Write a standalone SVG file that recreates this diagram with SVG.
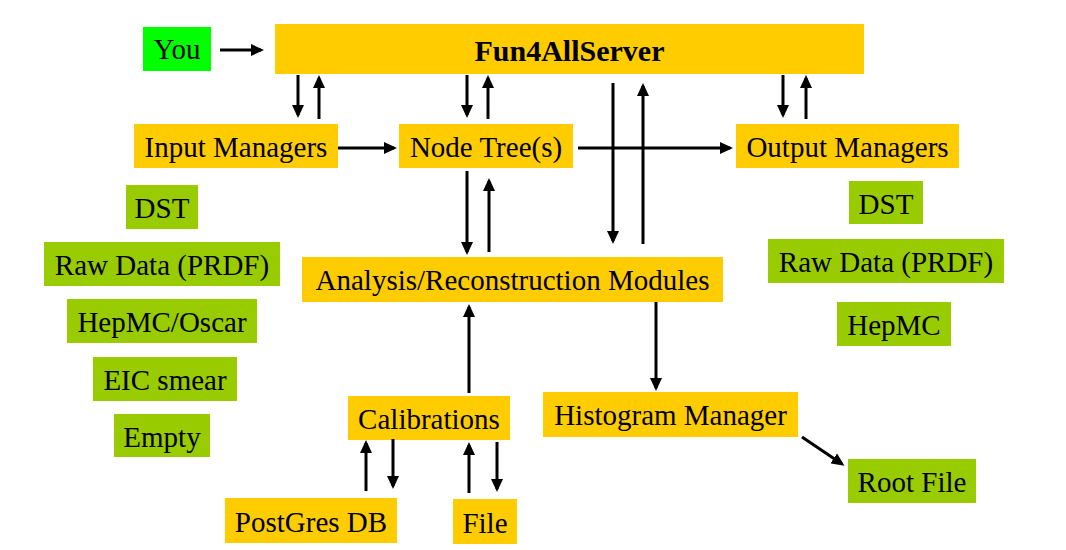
<svg xmlns="http://www.w3.org/2000/svg" width="1066" height="550" viewBox="0 0 1066 550">
<defs>
<style>
.y{fill:#ffcc00}
.g{fill:#99cc00}
.t{font-family:"Liberation Serif","Times New Roman",serif;font-size:29px;fill:#000;text-anchor:middle}
.b{font-weight:bold;font-size:30px}
.c line{stroke:#000;stroke-width:3;marker-end:url(#ah)}
</style>
<marker id="ah" markerUnits="userSpaceOnUse" markerWidth="14" markerHeight="12" refX="10" refY="6" orient="auto">
<path d="M0,0 L13,6 L0,12 Z" fill="#000"/>
</marker>
</defs>
<rect width="1066" height="550" fill="#fff"/>

<g id="you"><rect x="143" y="27" width="68" height="44" fill="#00ff00"/><text class="t" x="177" y="59">You</text></g>
<g id="server"><rect class="y" x="275" y="24" width="589" height="50"/><text class="t b" x="569.5" y="61">Fun4AllServer</text></g>
<g id="input"><rect class="y" x="134" y="124" width="204" height="44"/><text class="t" x="236" y="157">Input Managers</text></g>
<g id="nodetree"><rect class="y" x="399" y="124" width="174" height="44"/><text class="t" x="486" y="157">Node Tree(s)</text></g>
<g id="output"><rect class="y" x="736" y="124" width="223" height="44"/><text class="t" x="847.5" y="157">Output Managers</text></g>
<g id="analysis"><rect class="y" x="302" y="257" width="421" height="45"/><text class="t" x="512.5" y="290">Analysis/Reconstruction Modules</text></g>
<g id="calib"><rect class="y" x="348" y="396" width="162" height="44"/><text class="t" x="429" y="429">Calibrations</text></g>
<g id="postgres"><rect class="y" x="225" y="498" width="172" height="45"/><text class="t" x="311" y="532">PostGres DB</text></g>
<g id="file"><rect class="y" x="453" y="499" width="64" height="45"/><text class="t" x="485" y="533">File</text></g>
<g id="histo"><rect class="y" x="543" y="392" width="255" height="45"/><text class="t" x="670.5" y="425">Histogram Manager</text></g>
<g id="rootfile"><rect class="g" x="848" y="459" width="128" height="44"/><text class="t" x="912" y="492">Root File</text></g>

<g id="in-dst"><rect class="g" x="126" y="185" width="72" height="44"/><text class="t" x="162" y="218">DST</text></g>
<g id="in-raw"><rect class="g" x="44" y="242" width="236" height="44"/><text class="t" x="162" y="275">Raw Data (PRDF)</text></g>
<g id="in-hepmc"><rect class="g" x="67" y="299" width="190" height="44"/><text class="t" x="162" y="332">HepMC/Oscar</text></g>
<g id="in-eic"><rect class="g" x="93" y="357" width="144" height="44"/><text class="t" x="165" y="390">EIC smear</text></g>
<g id="in-empty"><rect class="g" x="114" y="414" width="96" height="43"/><text class="t" x="162" y="447">Empty</text></g>

<g id="out-dst"><rect class="g" x="849" y="181" width="74" height="43"/><text class="t" x="886" y="214">DST</text></g>
<g id="out-raw"><rect class="g" x="768" y="239" width="236" height="44"/><text class="t" x="886" y="272">Raw Data (PRDF)</text></g>
<g id="out-hepmc"><rect class="g" x="837" y="302" width="114" height="44"/><text class="t" x="894" y="335">HepMC</text></g>

<g id="connectors" class="c">
<line x1="220" y1="50" x2="261" y2="50"/>
<line x1="298" y1="75" x2="298" y2="115"/>
<line x1="319" y1="119" x2="319" y2="78"/>
<line x1="467" y1="75" x2="467" y2="115"/>
<line x1="488" y1="119" x2="488" y2="78"/>
<line x1="783" y1="75" x2="783" y2="115"/>
<line x1="806" y1="119" x2="806" y2="78"/>
<line x1="338" y1="148" x2="394" y2="148"/>
<line x1="578" y1="148" x2="730" y2="148"/>
<line x1="613" y1="83" x2="613" y2="241"/>
<line x1="643" y1="244" x2="643" y2="86"/>
<line x1="467" y1="171" x2="467" y2="252"/>
<line x1="489" y1="252" x2="489" y2="181"/>
<line x1="469" y1="393" x2="469" y2="307"/>
<line x1="656" y1="302" x2="656" y2="388"/>
<line x1="802" y1="437" x2="842" y2="464"/>
<line x1="366" y1="491" x2="366" y2="443"/>
<line x1="393" y1="439" x2="393" y2="486"/>
<line x1="469" y1="493" x2="469" y2="445"/>
<line x1="497" y1="442" x2="497" y2="489"/>
</g>
</svg>
